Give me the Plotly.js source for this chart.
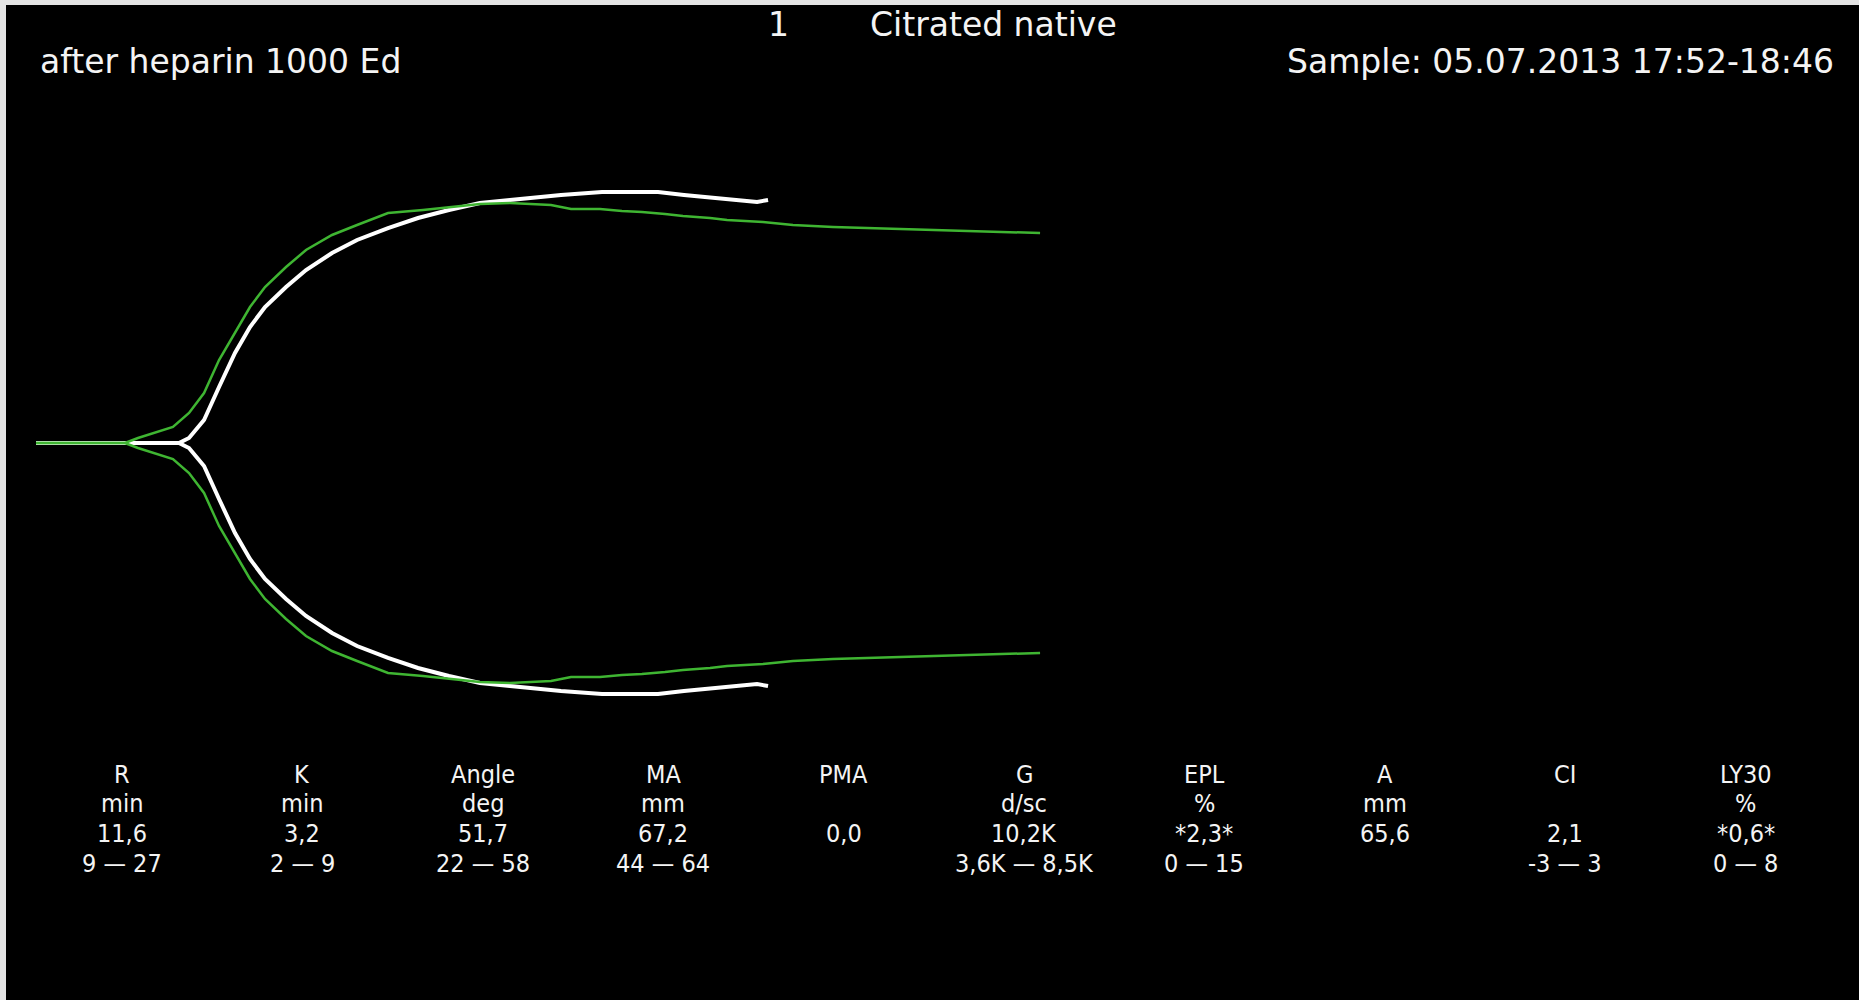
<!DOCTYPE html>
<html>
<head>
<meta charset="utf-8">
<script src="https://cdn.plot.ly/plotly-3.0.1.min.js"></script>
<style>html,body{margin:0;padding:0;background:#e4e4e4;overflow:hidden}</style>
</head>
<body>
<div id="chart" style="width:1859px;height:1000px"></div>
<script>
// ---- Data (time in minutes, amplitude in mm) ----
const whiteTime = [0, 10.67, 11.42, 12.54, 13.66, 14.85, 15.97, 17.09, 18.66, 20.15, 22.09, 23.96, 26.27, 28.51, 30.82, 33.13, 35.37, 39.18, 42.24, 46.42, 48.36, 50.60, 53.28, 53.81, 54.63];
const whiteAmp  = [0, 0, 1.34, 6.16, 14.99, 24.10, 31.06, 36.41, 41.77, 46.32, 50.87, 54.35, 57.56, 60.24, 62.38, 64.26, 65.06, 66.40, 67.20, 67.20, 66.40, 65.60, 64.79, 64.53, 65.06];

const greenTime = [0, 6.64, 7.61, 10.22, 11.42, 12.54, 13.66, 14.85, 15.97, 17.09, 18.66, 20.15, 22.09, 23.96, 26.27, 28.88, 31.57, 33.13, 35.37, 38.43, 39.93, 42.09, 43.73, 45.22, 46.94, 48.28, 50.30, 51.57, 54.25, 56.49, 59.48, 64.10, 68.96, 74.93];
const greenAmp  = [0, 0, 1.34, 4.28, 8.03, 13.39, 22.22, 29.45, 36.41, 41.77, 47.12, 51.67, 55.69, 58.37, 61.58, 62.38, 63.45, 63.99, 64.26, 63.72, 62.65, 62.65, 62.12, 61.85, 61.31, 60.78, 60.24, 59.71, 59.17, 58.37, 57.83, 57.30, 56.76, 56.22];

const headerLeft = 'after heparin 1000 Ed';
const headerNumber = '1';
const headerTitle = 'Citrated native';
const headerSample = 'Sample: 05.07.2013 17:52-18:46';

const paramNames  = ['R', 'K', 'Angle', 'MA', 'PMA', 'G', 'EPL', 'A', 'CI', 'LY30'];
const paramUnits  = ['min', 'min', 'deg', 'mm', '', 'd/sc', '%', 'mm', '', '%'];
const paramValues = ['11,6', '3,2', '51,7', '67,2', '0,0', '10,2K', '*2,3*', '65,6', '2,1', '*0,6*'];
const paramRanges = ['9 — 27', '2 — 9', '22 — 58', '44 — 64', '', '3,6K — 8,5K', '0 — 15', '', '-3 — 3', '0 — 8'];

// ---- Geometry helpers (pixel -> paper) ----
const W = 1859, H = 1000, ML = 6, MT = 5;
const PW = W - ML, PH = H - MT;
const px = x => (x - ML) / PW;
const py = y => (H - y) / PH;

const half = a => a.map(v => v / 2);
const negHalf = a => a.map(v => -v / 2);

const WHITE = '#ffffff';
const GREEN = '#3fb532';

const traces = [
  {x: whiteTime, y: half(whiteAmp), mode: 'lines', line: {color: WHITE, width: 4}, hoverinfo: 'skip'},
  {x: whiteTime, y: negHalf(whiteAmp), mode: 'lines', line: {color: WHITE, width: 4}, hoverinfo: 'skip'},
  {x: greenTime, y: half(greenAmp), mode: 'lines', line: {color: GREEN, width: 2.5}, hoverinfo: 'skip'},
  {x: greenTime, y: negHalf(greenAmp), mode: 'lines', line: {color: GREEN, width: 2.5}, hoverinfo: 'skip'}
];

const topFont = {family: 'DejaVu Sans, Verdana, sans-serif', size: 33, color: '#f4f4f4'};
const tabFont = {family: 'DejaVu Sans Condensed, DejaVu Sans, sans-serif', size: 25, color: '#f4f4f4'};

const ann = [];
function addText(text, x, y, font, anchor) {
  if (!text) return;
  ann.push({text: text, xref: 'paper', yref: 'paper', x: px(x), y: py(y),
            xanchor: anchor || 'center', yanchor: 'middle', showarrow: false,
            borderpad: 0, font: font});
}
addText(headerNumber, 778, 25, topFont, 'center');
addText(headerTitle, 869, 25, topFont, 'left');
addText(headerLeft, 39, 62, topFont, 'left');
addText(headerSample, 1835, 62, topFont, 'right');

const rowTop = 774, rowStep = 29.8;
paramNames.forEach((n, i) => {
  const cx = 122 + i * 180.4;
  addText(paramNames[i], cx, rowTop, tabFont);
  addText(paramUnits[i], cx, rowTop + rowStep, tabFont);
  addText(paramValues[i], cx, rowTop + 2 * rowStep, tabFont);
  addText(paramRanges[i], cx, rowTop + 3 * rowStep, tabFont);
});

// pixel mapping: t=0 at x=36px, 13.4 px/min; centre line at y=443px, 7.47 px/mm
const xr = [(ML - 36) / 13.4, (W - 36) / 13.4];
const yr = [(443 - H) / 7.47, (443 - MT) / 7.47];

const layout = {
  width: W, height: H,
  margin: {l: ML, r: 0, t: MT, b: 0, pad: 0},
  paper_bgcolor: '#e4e4e4',
  plot_bgcolor: '#000000',
  showlegend: false,
  xaxis: {range: xr, visible: false, fixedrange: true},
  yaxis: {range: yr, visible: false, fixedrange: true},
  annotations: ann
};

Plotly.newPlot('chart', traces, layout, {staticPlot: true, displayModeBar: false});
</script>
</body>
</html>
